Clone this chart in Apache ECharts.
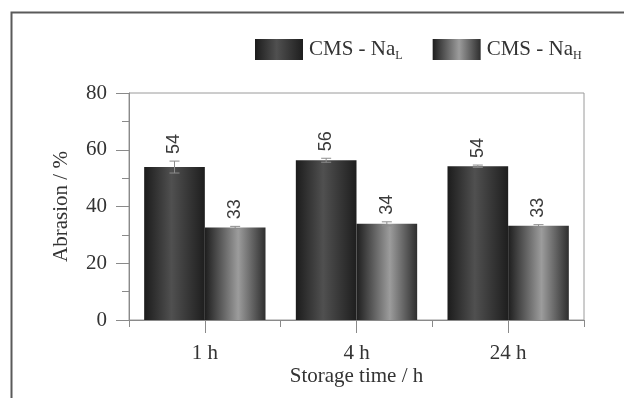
<!DOCTYPE html>
<html>
<head>
<meta charset="utf-8">
<script src="https://cdn.jsdelivr.net/npm/echarts@6/dist/echarts.min.js"></script>
<style>html,body{margin:0;padding:0;background:#fff;}#c{width:624px;height:398px;}</style>
</head>
<body>
<div id="c"></div>
<script>
const categories = ['1 h', '4 h', '24 h'];
const seriesNames = ['CMS - NaL', 'CMS - NaH'];
const valuesL = [53.9, 56.3, 54.2];
const valuesH = [32.6, 33.9, 33.2];
const errorsL = [2.1, 0.7, 0.4];
const errorsH = [0.4, 0.7, 0.4];
const yTicks = [0, 20, 40, 60, 80];

const serif = 'Liberation Serif';
const textColor = '#333';
const axisColor = '#8a8a8a';

function grad(edgeL, mid, edgeR, midPos) {
  return new echarts.graphic.LinearGradient(0, 0, 1, 0, [
    {offset: 0, color: edgeL},
    {offset: midPos, color: mid},
    {offset: 1, color: edgeR}
  ]);
}
const gradL = grad('#1c1c1c', '#505050', '#1e1e1e', 0.45);
const gradH = grad('#1e1e1e', '#9c9c9c', '#2e2e2e', 0.55);

function errData(vals, errs) {
  return vals.map((v, i) => [i, v, errs[i]]);
}

function makeErr(sIdx) {
  return function (params, api) {
    const ci = api.value(0), v = api.value(1), e = api.value(2);
    const band = api.size([1, 0])[0];
    const bw = band * 0.8 / 2;
    const off = sIdx === 0 ? -bw / 2 : bw / 2;
    const t = api.coord([ci, v + e]);
    const b = api.coord([ci, v - e]);
    const x = t[0] + off;
    const cap = 5;
    const st = {stroke: '#8c8c8c', lineWidth: 1};
    return {
      type: 'group',
      children: [
        {type: 'line', shape: {x1: x, y1: t[1], x2: x, y2: b[1]}, style: st},
        {type: 'line', shape: {x1: x - cap, y1: t[1], x2: x + cap, y2: t[1]}, style: st},
        {type: 'line', shape: {x1: x - cap, y1: b[1], x2: x + cap, y2: b[1]}, style: st},
        {type: 'text', x: x, y: t[1] - 7, rotation: Math.PI / 2,
          style: {text: String(Math.round(v)), fontFamily: 'Liberation Sans', fontSize: 18,
            fill: '#3a3a3a', align: 'left', verticalAlign: 'middle'}}
      ]
    };
  };
}

const chart = echarts.init(document.getElementById('c'), null, {renderer: 'canvas'});
chart.setOption({
  animation: false,
  backgroundColor: '#fff',
  graphic: [{
    type: 'rect', left: 9, top: 10, shape: {x: 0, y: 0, width: 700, height: 500},
    style: {fill: 'none', stroke: '#5a5a5a', lineWidth: 2}, silent: true, z: 100
  }],
  legend: {
    left: 250, top: 34, itemWidth: 48, itemHeight: 21, itemGap: 30,
    icon: 'rect',
    data: seriesNames,
    formatter: function (n) {
      return n === 'CMS - NaL' ? 'CMS - Na{s|L}' : 'CMS - Na{s|H}';
    },
    textStyle: {
      fontFamily: serif, fontSize: 21, color: textColor, padding: [0, 0, 0, 1],
      rich: {s: {fontFamily: serif, fontSize: 12, color: textColor, padding: [12, 0, 0, 0]}}
    }
  },
  grid: {left: 129, right: 40, top: 93, bottom: 78, show: true, borderColor: '#9a9a9a', borderWidth: 1},
  xAxis: [{
    type: 'category', data: categories, position: 'bottom',
    axisLine: {lineStyle: {color: axisColor}},
    axisTick: {show: true, length: 7, lineStyle: {color: axisColor}},
    axisLabel: {fontFamily: serif, fontSize: 21, color: textColor, margin: 23},
    name: 'Storage time / h', nameLocation: 'middle', nameGap: 46, nameMoveOverlap: false,
    nameTextStyle: {fontFamily: serif, fontSize: 21, color: textColor}
  }, {
    type: 'category', data: categories, position: 'bottom', offset: 0,
    axisLine: {show: false},
    axisTick: {show: true, alignWithLabel: true, length: 13, lineStyle: {color: axisColor}},
    axisLabel: {show: false}
  }],
  yAxis: {
    type: 'value', min: yTicks[0], max: yTicks[yTicks.length - 1], interval: 20,
    axisLine: {show: true, lineStyle: {color: axisColor}},
    axisTick: {show: true, length: 13, lineStyle: {color: axisColor}},
    minorTick: {show: true, splitNumber: 2, length: 7, lineStyle: {color: axisColor}},
    splitLine: {show: false},
    axisLabel: {fontFamily: serif, fontSize: 21, color: textColor, margin: 22},
    name: 'Abrasion / %', nameLocation: 'middle', nameGap: 57,
    nameTextStyle: {fontFamily: serif, fontSize: 21, color: textColor}
  },
  series: [
    {name: seriesNames[0], type: 'bar', data: valuesL, barGap: '0%', barCategoryGap: '20%',
      itemStyle: {color: gradL}},
    {name: seriesNames[1], type: 'bar', data: valuesH, barGap: '0%', barCategoryGap: '20%',
      itemStyle: {color: gradH}},
    {type: 'custom', renderItem: makeErr(0), data: errData(valuesL, errorsL), encode: {x: 0, y: 1}, z: 5},
    {type: 'custom', renderItem: makeErr(1), data: errData(valuesH, errorsH), encode: {x: 0, y: 1}, z: 5}
  ]
});
</script>
</body>
</html>
